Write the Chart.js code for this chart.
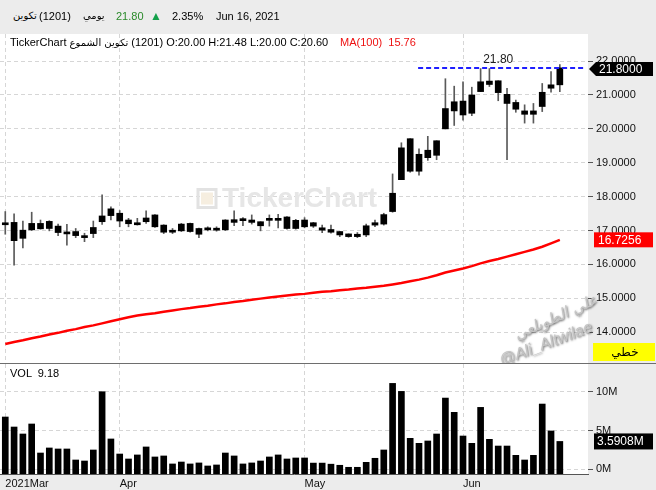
<!DOCTYPE html>
<html>
<head>
<meta charset="utf-8">
<script src="https://cdn.jsdelivr.net/npm/chart.js@4.4.1/dist/chart.umd.min.js"></script>
<style>
body{margin:0;width:656px;height:490px;background:#ececec;overflow:hidden;position:relative;font-family:"Liberation Sans","DejaVu Sans",sans-serif;font-size:11px;color:#000}
.t{position:absolute;white-space:pre;line-height:14px}
.ar{font-family:"DejaVu Sans",sans-serif;font-size:10px}
canvas{position:absolute;left:0;display:block}
#cPrice{top:34px}
#cVol{top:364px}
#sep{position:absolute;left:0;top:363px;width:656px;height:1px;background:#6e6e6e}
</style>
</head>
<body>
<canvas id="cPrice" width="656" height="329"></canvas>
<div id="sep"></div>
<canvas id="cVol" width="656" height="126"></canvas>

<div class="t ar" style="left:13px;top:9px">تكوين</div>
<div class="t" style="left:39px;top:9px">(1201)</div>
<div class="t ar" style="left:83px;top:9px">يومي</div>
<div class="t" style="left:116px;top:9px;color:#2a8a2a">21.80</div>
<div class="t" style="left:150px;top:9px;color:#13a04a;font-size:12px">▲</div>
<div class="t" style="left:172px;top:9px">2.35%</div>
<div class="t" style="left:216px;top:9px">Jun 16, 2021</div>

<div class="t" style="left:10px;top:35px">TickerChart <span class="ar" style="unicode-bidi:isolate;direction:rtl">تكوين الشموع</span> (1201) O:20.00 H:21.48 L:20.00 C:20.60</div>
<div class="t" style="left:340px;top:35px;color:#ee1111">MA(100)  15.76</div>
<div class="t" style="left:10px;top:366px">VOL  9.18</div>

<script>
// month start positions (trading-day index) and their labels
const MONTH_IDX = [0, 13, 34, 52];
const MONTH_LABELS = ['2021Mar', 'Apr', 'May', 'Jun'];

const OPEN  = [17.20,17.24,16.77,17.02,17.21,17.06,17.13,16.92,16.97,16.84,
               16.91,17.26,17.44,17.51,17.31,17.23,17.26,17.46,17.16,16.99,
               16.99,17.21,17.06,17.02,17.02,17.02,17.24,17.29,17.31,17.26,
               17.31,17.30,17.40,17.30,17.11,17.23,17.08,17.03,16.97,16.90,
               16.82,16.87,17.16,17.19,17.56,18.50,19.71,18.75,19.15,19.22,
               20.00,20.80,20.41,20.46,21.10,21.41,21.42,21.02,20.78,20.53,
               20.43,20.66,21.20,21.30];
const HIGH  = [17.56,17.49,17.28,17.54,17.31,17.29,17.19,17.18,17.06,16.92,
               17.28,18.05,17.70,17.59,17.36,17.36,17.58,17.47,17.17,17.06,
               17.21,17.22,17.07,17.11,17.11,17.32,17.58,17.38,17.46,17.26,
               17.46,17.48,17.41,17.33,17.38,17.24,17.16,17.16,16.97,16.90,
               16.94,17.19,17.31,17.51,18.67,19.59,19.71,19.41,19.78,19.65,
               21.48,21.26,21.39,21.23,21.78,21.78,21.42,21.20,20.85,20.71,
               20.75,21.34,21.69,21.90];
const LOW   = [16.89,15.98,16.49,17.00,17.04,16.99,16.85,16.57,16.79,16.67,
               16.79,17.18,17.31,17.11,17.11,17.16,17.21,17.09,16.91,16.91,
               16.97,16.95,16.79,16.99,16.98,17.00,17.14,17.14,17.19,16.99,
               17.13,17.08,17.04,17.04,17.08,17.09,16.94,16.92,16.82,16.80,
               16.79,16.82,17.11,17.16,17.54,18.50,18.72,18.63,19.07,19.09,
               20.00,20.10,20.26,20.39,21.10,21.25,20.83,19.09,20.49,20.17,
               20.17,20.51,21.08,21.10];
const CLOSE = [17.17,16.70,17.01,17.21,17.05,17.27,16.94,16.90,16.85,16.79,
               17.09,17.43,17.64,17.28,17.20,17.17,17.37,17.11,16.95,16.95,
               17.19,16.97,16.89,17.07,17.01,17.31,17.32,17.35,17.24,17.14,
               17.30,17.36,17.06,17.06,17.31,17.13,17.01,16.95,16.87,16.82,
               16.89,17.14,17.23,17.47,18.10,19.44,18.75,19.25,19.37,19.65,
               20.60,20.53,20.82,21.00,21.39,21.31,21.07,20.75,20.58,20.43,
               20.53,21.08,21.30,21.80];
const MA100 = [13.65,13.71,13.76,13.82,13.87,13.93,13.98,14.04,14.09,14.15,
               14.20,14.26,14.32,14.38,14.44,14.49,14.53,14.56,14.60,14.64,
               14.68,14.71,14.75,14.78,14.82,14.85,14.89,14.92,14.96,14.99,
               15.02,15.05,15.08,15.11,15.13,15.16,15.19,15.21,15.24,15.26,
               15.29,15.31,15.34,15.37,15.41,15.45,15.50,15.55,15.61,15.68,
               15.76,15.82,15.88,15.95,16.03,16.10,16.16,16.23,16.30,16.37,
               16.44,16.52,16.62,16.7256];
// volume in millions
const VOLUME = [6.74,5.45,4.55,5.84,2.10,2.75,2.62,2.62,1.20,1.07,
                2.49,10.00,3.91,1.97,1.33,1.85,2.88,1.59,1.72,0.69,
                0.94,0.69,0.82,0.43,0.56,2.10,1.72,0.69,0.82,1.07,
                1.59,1.85,1.33,1.46,1.46,0.80,0.80,0.66,0.52,0.26,
                0.26,0.90,1.42,2.49,11.07,10.04,3.99,3.35,3.65,4.55,
                9.18,7.34,4.29,3.35,7.98,3.86,3.00,3.00,1.80,1.20,
                1.80,8.41,4.94,3.5908];
const PRICE_TICKS = [14,15,16,17,18,19,20,21,22];
const VOL_TICKS = [0,5,10];

const LAST = CLOSE[CLOSE.length - 1];
const LAST_MA = MA100[MA100.length - 1];
const LAST_VOL = VOLUME[VOLUME.length - 1];

const XMIN = -0.6, XMAX = 66.2;
const PMIN = 13.09, PMAX = 22.80;
const VMIN = -0.605, VMAX = 13.57;
const FONT = '"Liberation Sans", "DejaVu Sans", sans-serif';
const GRID = '#d6d6d6';

const noPad = (w, h) => s => {
	if (w != null) s.width = w;
	if (h != null) s.height = h;
	s.paddingLeft = 0; s.paddingRight = 0; s.paddingTop = 0; s.paddingBottom = 0;
};

const whiteArea = {
	id: 'whiteArea',
	beforeDraw(chart) {
		const a = chart.chartArea, c = chart.ctx;
		c.save();
		c.fillStyle = '#fff';
		c.fillRect(a.left, a.top, a.right - a.left, a.bottom - a.top);
		c.restore();
	}
};

const watermark = {
	id: 'watermark',
	beforeDatasetsDraw(chart) {
		const a = chart.chartArea, c = chart.ctx;
		const cx = (a.left + a.right) / 2 - 6, cy = (a.top + a.bottom) / 2;
		c.save();
		c.font = 'bold 28px ' + FONT;
		c.fillStyle = '#e6e6e6';
		c.textBaseline = 'middle';
		c.fillText('TickerChart', cx - 66, cy + 1);
		c.strokeStyle = '#e2e2e2';
		c.lineWidth = 3;
		c.strokeRect(cx - 90, cy - 9, 18, 18);
		c.fillStyle = '#f6eee0';
		c.fillRect(cx - 87, cy - 6, 12, 12);
		c.restore();
	}
};

const lastLine = {
	id: 'lastLine',
	afterDatasetsDraw(chart) {
		const c = chart.ctx, a = chart.chartArea;
		const x = chart.scales.x, y = chart.scales.y;
		const py = y.getPixelForValue(LAST);
		c.save();
		c.strokeStyle = '#1f1fff';
		c.lineWidth = 2;
		c.setLineDash([5, 3]);
		c.beginPath();
		c.moveTo(x.getPixelForValue(46.9), py);
		c.lineTo(a.right - 2, py);
		c.stroke();
		c.setLineDash([]);
		c.font = '12px ' + FONT;
		c.fillStyle = '#222';
		c.textAlign = 'center';
		c.textBaseline = 'bottom';
		c.fillText(LAST.toFixed(2), x.getPixelForValue(56), py - 2);
		c.restore();
	}
};

const priceBoxes = {
	id: 'priceBoxes',
	afterDraw(chart) {
		const c = chart.ctx, y = chart.scales.y;
		c.save();
		c.font = '12px ' + FONT;
		c.textBaseline = 'middle';
		// last price tag
		let py = y.getPixelForValue(LAST) + 1;
		c.fillStyle = '#000';
		c.beginPath();
		c.moveTo(589, py); c.lineTo(596, py - 7); c.lineTo(653, py - 7);
		c.lineTo(653, py + 7); c.lineTo(596, py + 7); c.closePath();
		c.fill();
		c.fillStyle = '#fff';
		c.fillText(LAST.toFixed(4), 599, py + 0.5);
		// MA tag
		py = y.getPixelForValue(LAST_MA);
		c.fillStyle = '#ff0000';
		c.fillRect(594, py - 7.5, 59, 15);
		c.fillStyle = '#fff';
		c.fillText(LAST_MA.toFixed(4), 598, py + 0.5);
		// scale type tag
		c.fillStyle = '#ffff00';
		c.fillRect(593, 309, 62, 18);
		c.fillStyle = '#000';
		c.textAlign = 'center';
		c.fillText('خطي', 625, 318.5);
		c.restore();
	}
};

const signature = {
	id: 'signature',
	afterDraw(chart) {
		const c = chart.ctx;
		const lines = [
			{ t: 'علي الطويلعي', x: 556, y: 284, r: -0.42, f: 'italic 15px "DejaVu Sans"' },
			{ t: '@Ali_Altwilae', x: 546, y: 310, r: -0.36, f: 'italic 16px "Liberation Sans"' }
		];
		for (const l of lines) {
			c.save();
			c.fillStyle = '#c4c4c4';
			c.shadowColor = 'rgba(40,40,40,0.7)';
			c.shadowBlur = 2;
			c.shadowOffsetX = 1;
			c.shadowOffsetY = 1;
			c.textAlign = 'center';
			c.textBaseline = 'middle';
			c.translate(l.x, l.y);
			c.rotate(l.r);
			c.font = l.f;
			c.fillText(l.t, 0, 0);
			c.restore();
		}
	}
};

const volBox = {
	id: 'volBox',
	afterDraw(chart) {
		const c = chart.ctx, y = chart.scales.y;
		const py = y.getPixelForValue(LAST_VOL);
		c.save();
		c.fillStyle = '#000';
		c.fillRect(594, py - 8, 59, 16);
		c.font = '12px ' + FONT;
		c.fillStyle = '#fff';
		c.textBaseline = 'middle';
		c.fillText(LAST_VOL.toFixed(4) + 'M', 597, py + 0.5);
		c.restore();
	}
};

const xGrid = {
	type: 'linear', min: XMIN, max: XMAX, offset: false,
	afterBuildTicks: s => { s.ticks = MONTH_IDX.map(v => ({ value: v })); },
	grid: { color: GRID, drawTicks: false, offset: false },
};

new Chart(document.getElementById('cPrice'), {
	type: 'bar',
	data: {
		datasets: [
			{
				type: 'line',
				data: MA100.map((v, i) => ({ x: i, y: v })),
				borderColor: '#ff0000', borderWidth: 2.5, pointRadius: 0, tension: 0, order: 1
			},
			{
				data: OPEN.map((o, i) => ({ x: i, y: [Math.min(o, CLOSE[i]), Math.max(o, CLOSE[i])] })),
				backgroundColor: '#000', barThickness: 6, minBarLength: 2, grouped: false, order: 2
			},
			{
				data: HIGH.map((h, i) => ({ x: i, y: [LOW[i], h] })),
				backgroundColor: '#5a5a5a', barThickness: 1, grouped: false, order: 3
			}
		]
	},
	options: {
		responsive: false, animation: false,
		layout: { padding: 0 },
		plugins: { legend: { display: false }, tooltip: { enabled: false } },
		scales: {
			x: Object.assign({}, xGrid, {
				ticks: { display: false, autoSkip: false },
				border: { display: false, dash: [4, 3] },
				afterFit: noPad(null, 0)
			}),
			y: {
				position: 'right', min: PMIN, max: PMAX,
				afterBuildTicks: s => { s.ticks = PRICE_TICKS.map(v => ({ value: v })); },
				ticks: { callback: v => v.toFixed(4), color: '#111', font: { family: FONT, size: 11 }, padding: 3 },
				grid: { color: GRID, tickColor: '#555', tickLength: 5 },
				border: { display: false, dash: [4, 3] },
				afterFit: noPad(68, null)
			}
		}
	},
	plugins: [whiteArea, watermark, lastLine, priceBoxes, signature]
});

new Chart(document.getElementById('cVol'), {
	type: 'bar',
	data: {
		datasets: [{
			data: VOLUME.map((v, i) => ({ x: i, y: v })),
			backgroundColor: '#000', barThickness: 6, base: VMIN
		}]
	},
	options: {
		responsive: false, animation: false,
		layout: { padding: 0 },
		plugins: { legend: { display: false }, tooltip: { enabled: false } },
		scales: {
			x: Object.assign({}, xGrid, {
				ticks: {
					autoSkip: false, maxRotation: 0, align: 'start', padding: 3,
					color: '#111', font: { family: FONT, size: 11 },
					callback: v => { const k = MONTH_IDX.indexOf(v); return k >= 0 ? MONTH_LABELS[k] : ''; }
				},
				border: { display: true, color: '#555', width: 1, dash: [4, 3] },
				afterFit: noPad(null, 16)
			}),
			y: {
				position: 'right', min: VMIN, max: VMAX,
				afterBuildTicks: s => { s.ticks = VOL_TICKS.map(v => ({ value: v })); },
				ticks: { callback: v => v + 'M', color: '#111', font: { family: FONT, size: 11 }, padding: 3 },
				grid: { color: GRID, tickColor: '#555', tickLength: 5 },
				border: { display: false, dash: [4, 3] },
				afterFit: noPad(68, null)
			}
		}
	},
	plugins: [whiteArea, volBox]
});
</script>
</body>
</html>
